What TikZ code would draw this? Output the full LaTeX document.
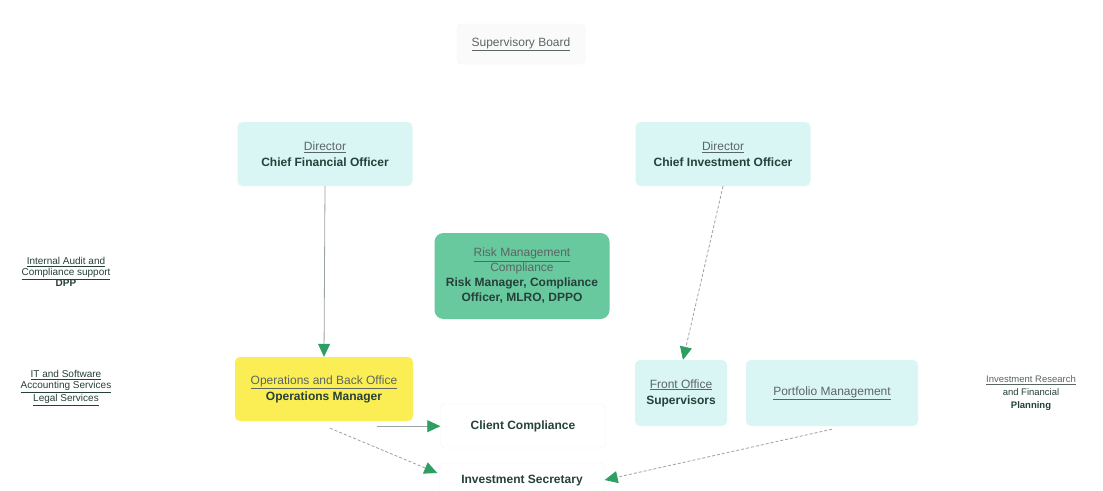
\documentclass[tikz,border=0pt]{standalone}
\usepackage{fontspec}
\setmainfont{Liberation Sans}
\usetikzlibrary{arrows.meta}
\definecolor{cyanbox}{HTML}{D9F6F4}
\definecolor{yelbox}{HTML}{FBEE55}
\definecolor{grnbox}{HTML}{68C99E}
\definecolor{txt}{HTML}{26403A}
\definecolor{ttl}{HTML}{5A6664}
\definecolor{arrg}{HTML}{2E9E62}
\definecolor{lineg}{HTML}{9AA3A3}
\tikzset{
  x=1pt, y=-1pt,
  every node/.style={font=\fontsize{12}{16}\selectfont, text=txt, align=center, inner sep=0pt},
  box/.style={rounded corners=5pt, minimum width=175pt, minimum height=64pt},
  cyanb/.style={box, fill=cyanbox},
  plain/.style={rounded corners=4pt, fill=white, draw=black!4},
  side/.style={font=\fontsize{10}{11}\selectfont},
  conn/.style={draw=lineg, line width=0.8pt, -{Triangle[length=13pt,width=12pt,color=arrg]}},
  dconn/.style={conn, dash pattern=on 3pt off 2pt},
}
\newcommand{\ttlx}[1]{{\color{ttl}\underline{#1}}}
\begin{document}
\begin{tikzpicture}
\useasboundingbox[fill=white] (0,0) rectangle (1103,490);
% Supervisory Board
\node[plain, minimum width=128pt, minimum height=40pt, fill=black!2] (sb) at (521,44) {\ttlx{Supervisory Board}};
% Directors
\node[cyanb] (cfo) at (325,154) {\ttlx{Director}\\\textbf{Chief Financial Officer}};
\node[cyanb] (cio) at (723,154) {\ttlx{Director}\\\textbf{Chief Investment Officer}};
% Risk
\node[box, fill=grnbox, rounded corners=9pt, minimum height=86pt, font=\fontsize{12}{15}\selectfont] (risk) at (522,276)
  {\ttlx{Risk Management}\\{\color{ttl}Compliance}\\\textbf{Risk Manager, Compliance}\\\textbf{Officer, MLRO, DPPO}};
% Left texts
\node[side] (audit) at (66,272) {\underline{Internal Audit and}\\\underline{Compliance support}\\\textbf{DPP}};
\node[side] (it) at (66,388) {\underline{IT and Software}\\\underline{Accounting Services}\\\underline{Legal Services}};
% Operations
\node[box, fill=yelbox, minimum width=178pt, minimum height=64pt] (ops) at (324,389) {\ttlx{Operations and Back Office}\\\textbf{Operations Manager}};
% Front office & Portfolio
\node[cyanb, minimum width=92pt, minimum height=66pt] (fo) at (681,393) {\ttlx{Front Office}\\\textbf{Supervisors}};
\node[cyanb, minimum width=172pt, minimum height=66pt] (pm) at (832,393) {\ttlx{Portfolio Management}};
% Right text
\node[side, font=\fontsize{9.5}{13}\selectfont] (res) at (1031,393) {{\color{ttl}\underline{Investment Research}}\\and Financial\\\textbf{Planning}};
% Client compliance & investment secretary
\node[plain, minimum width=165pt, minimum height=44pt] (cc) at (523,426) {\textbf{Client Compliance}};
\node[plain, minimum width=165pt, minimum height=36pt] (is) at (522,481) {\textbf{Investment Secretary}};
% Connectors
\draw[conn] (cfo.south) -- (ops.north);
\draw[dconn] (cio.south) -- ([xshift=2pt]fo.north);
\draw[conn] (ops.south east) ++(-36pt,-5pt) coordinate (ccs) (ccs) -- (ccs -| cc.west);
\draw[dconn] ([xshift=6pt,yshift=-7pt]ops.south) -- ([xshift=-2pt,yshift=8pt]is.west);
\draw[dconn] ([yshift=-3pt]pm.south) -- ([yshift=1pt]is.east);
\end{tikzpicture}
\end{document}
